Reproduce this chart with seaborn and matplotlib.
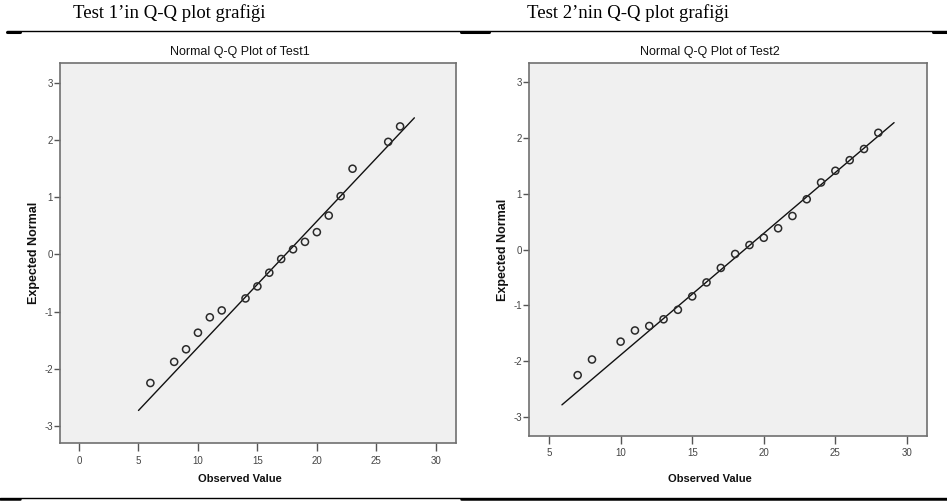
import numpy as np
import pandas as pd
import matplotlib
matplotlib.use("Agg")
import matplotlib.pyplot as plt
from matplotlib.lines import Line2D
import seaborn as sns

test1_observed = [6, 8, 9, 10, 11, 12, 14, 15, 16, 17, 18, 19, 20, 21, 22, 23, 26, 27]
test1_expected = [-2.25, -1.88, -1.66, -1.37, -1.10, -0.98, -0.77, -0.56, -0.32,
                  -0.08, 0.09, 0.22, 0.39, 0.68, 1.02, 1.50, 1.97, 2.24]
test1_mean, test1_sd = 17.37, 4.53
test1_line_x = [5.0, 28.2]

test2_observed = [7, 8, 10, 11, 12, 13, 14, 15, 16, 17, 18, 19, 20, 21, 22, 23,
                  24, 25, 26, 27, 28]
test2_expected = [-2.25, -1.97, -1.65, -1.45, -1.37, -1.25, -1.08, -0.84, -0.59,
                  -0.33, -0.08, 0.08, 0.21, 0.38, 0.60, 0.90, 1.20, 1.41, 1.60,
                  1.80, 2.09]
test2_mean, test2_sd = 18.67, 4.59
test2_line_x = [5.9, 29.1]

headers = ["Test 1\u2019in Q-Q plot grafi\u011fi", "Test 2\u2019nin Q-Q plot grafi\u011fi"]
titles = ["Normal Q-Q Plot of Test1", "Normal Q-Q Plot of Test2"]
x_ticks = [[0, 5, 10, 15, 20, 25, 30], [5, 10, 15, 20, 25, 30]]
y_ticks = [-3, -2, -1, 0, 1, 2, 3]

sns.set_style("white")
plt.rcParams['font.family'] = ['Liberation Sans', 'DejaVu Sans']
plt.rcParams['axes.unicode_minus'] = False

W, H = 947, 501
fig = plt.figure(figsize=(W / 100, H / 100), dpi=100)

def fx(px):
    return px / W

def fy(py):
    return 1 - py / H

# axes boxes in pixel coords (left, top, right, bottom)
boxes = [(60, 63, 456, 443), (529, 63, 927, 436)]
xlims = [(-1.6, 31.7), (3.6, 31.4)]
ylims = [(-3.3, 3.35), (-3.34, 3.34)]

panels = [
    (test1_observed, test1_expected, test1_mean, test1_sd, test1_line_x),
    (test2_observed, test2_expected, test2_mean, test2_sd, test2_line_x),
]

for i, (obs, exp, mu, sd, lx) in enumerate(panels):
    l, t, r, b = boxes[i]
    ax = fig.add_axes([fx(l), fy(b), fx(r - l), (b - t) / H])
    ax.set_facecolor("#f0f0f0")

    line_df = pd.DataFrame({"x": lx})
    line_df["y"] = (line_df["x"] - mu) / sd
    sns.lineplot(data=line_df, x="x", y="y", ax=ax, color="#111111", linewidth=1.0)

    pts = pd.DataFrame({"obs": obs, "exp": exp})
    sns.scatterplot(data=pts, x="obs", y="exp", ax=ax, marker="o", s=26,
                    facecolor="none", edgecolor="#2a2a2a", linewidth=1.1, zorder=3)

    ax.set_xlim(*xlims[i])
    ax.set_ylim(*ylims[i])
    ax.set_xticks(x_ticks[i])
    ax.set_yticks(y_ticks)
    ax.tick_params(axis="x", direction="out", length=6, width=1, color="#555555",
                   labelsize=7, labelcolor="#444444", pad=3)
    ax.tick_params(axis="y", direction="out", length=4, width=1, color="#555555",
                   labelsize=7, labelcolor="#444444", pad=1)
    ax.tick_params(bottom=True, left=True)
    for s in ax.spines.values():
        s.set_color("#707070")
        s.set_linewidth(1.2)
    ax.set_xlabel("")
    ax.set_ylabel("")

    # SPSS-style labels
    cx = (l + r) / 2 - 18
    fig.text(fx(cx), fy(52), titles[i], ha="center", va="center", fontsize=9,
             color="#111111")
    fig.text(fx(cx), fy(479), "Observed Value", ha="center", va="center",
             fontsize=8, fontweight="bold", color="#111111")
    fig.text(fx(l - 26), fy((t + b) / 2), "Expected Normal", ha="center", va="center",
             rotation=90, fontsize=9, fontweight="bold", color="#111111")

# document headers (Times-like)
for txt, cx in zip(headers, [169, 628]):
    fig.text(fx(cx), fy(13), txt, ha="center", va="center", fontsize=13.5,
             family=["Liberation Serif", "DejaVu Serif"], color="black")

# rule lines from the document table
fig.add_artist(Line2D([fx(7), fx(947)], [fy(31), fy(31)], color="black", linewidth=1.0))
for a, c in [(7, 20), (461, 489), (933, 947)]:
    fig.add_artist(Line2D([fx(a), fx(c)], [fy(32), fy(32)], color="black", linewidth=2.2))
fig.add_artist(Line2D([fx(0), fx(947)], [fy(498), fy(498)], color="black", linewidth=1.0))
for a, c in [(0, 20), (461, 947)]:
    fig.add_artist(Line2D([fx(a), fx(c)], [fy(498.5), fy(498.5)], color="black", linewidth=1.8))

fig.savefig("out.png", dpi=100)
